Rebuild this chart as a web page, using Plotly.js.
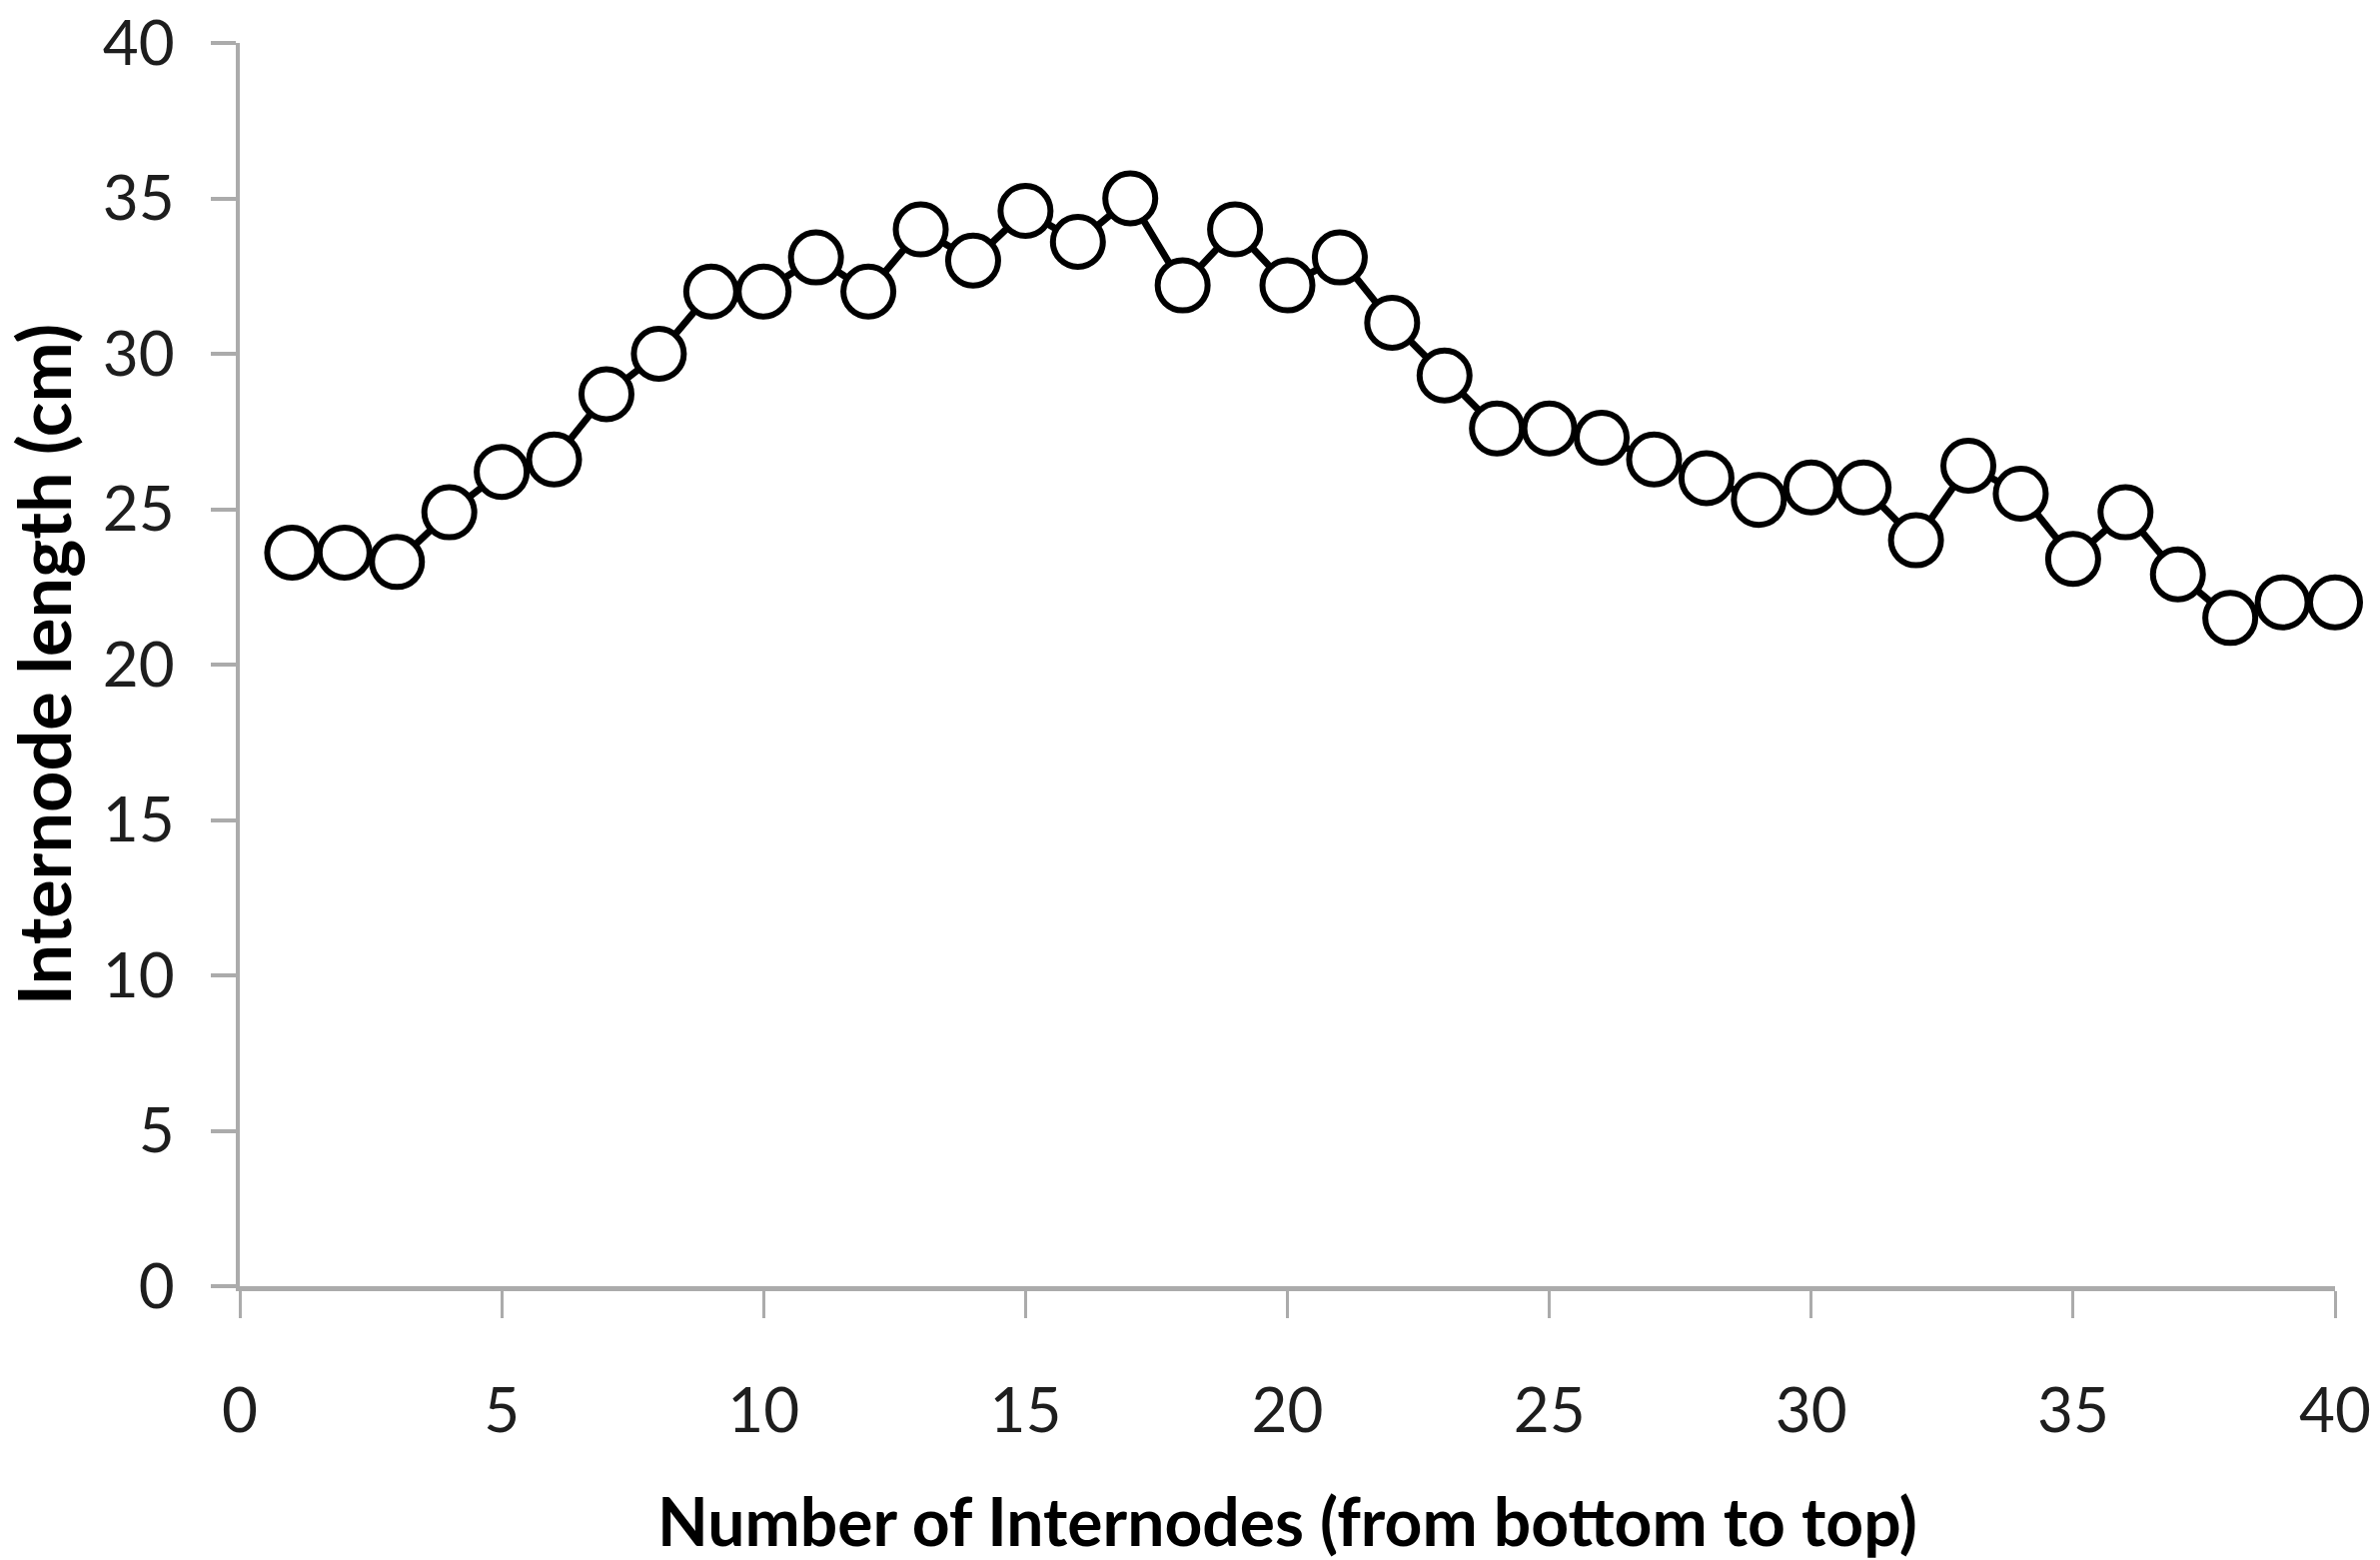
<!DOCTYPE html>
<html>
<head>
<meta charset="utf-8">
<script src="https://cdn.plot.ly/plotly-3.0.1.min.js"></script>
<style>html,body{margin:0;padding:0;background:#fff;}#chart{width:2382px;height:1561px;}</style>
</head>
<body>
<div id="chart"></div>
<script>
const internodeNumber = [1,2,3,4,5,6,7,8,9,10,11,12,13,14,15,16,17,18,19,20,21,22,23,24,25,26,27,28,29,30,31,32,33,34,35,36,37,38,39,40];
const internodeLength = [23.6,23.6,23.3,24.9,26.2,26.6,28.7,30.0,32.0,32.0,33.1,32.0,34.0,33.0,34.6,33.6,35.0,32.2,34.0,32.2,33.1,31.0,29.3,27.6,27.6,27.3,26.6,26.0,25.3,25.7,25.7,24.0,26.4,25.5,23.4,24.9,22.9,21.5,22.0,22.0];
const tickValues = [0,5,10,15,20,25,30,35,40];
const xTitle = "Number of Internodes (from bottom to top)";
const yTitle = "Internode length (cm)";

const tickFont = {family: "Lato, 'Open Sans', sans-serif", size: 62, color: "#1e1e1e"};
const xTitleFont = {family: "Lato, 'Open Sans', sans-serif", size: 66, color: "#000", weight: "bold"};
const yTitleFont = {family: "Lato, 'Open Sans', sans-serif", size: 72, color: "#000", weight: "bold"};

Plotly.newPlot("chart", [{
  x: internodeNumber,
  y: internodeLength,
  type: "scatter",
  mode: "lines+markers",
  line: {color: "#000", width: 7},
  marker: {symbol: "circle", size: 50, color: "#fff", line: {color: "#000", width: 6}},
  cliponaxis: false,
  showlegend: false
}], {
  width: 2382, height: 1561,
  paper_bgcolor: "#fff", plot_bgcolor: "#fff",
  margin: {l: 240, r: 45, t: 43, b: 274},
  xaxis: {
    range: [0, 40], tickvals: tickValues, ticktext: tickValues.map(String),
    showgrid: false, zeroline: false, showline: true, linecolor: "#ababab", linewidth: 5,
    ticks: "outside", ticklen: 27, tickwidth: 3, tickcolor: "#ababab",
    ticklabelstandoff: 40, tickfont: tickFont,
    title: {text: "<b>" + xTitle + "</b>", font: xTitleFont, standoff: 60}
  },
  yaxis: {
    range: [0, 40], tickvals: tickValues, ticktext: tickValues.map(String),
    showgrid: false, zeroline: false, showline: true, linecolor: "#ababab", linewidth: 4,
    ticks: "outside", ticklen: 25, tickwidth: 4, tickcolor: "#ababab",
    ticklabelstandoff: 24, tickfont: tickFont,
    title: {text: "<b>" + yTitle + "</b>", font: yTitleFont, standoff: 44}
  }
}, {displayModeBar: false});
</script>
</body>
</html>
